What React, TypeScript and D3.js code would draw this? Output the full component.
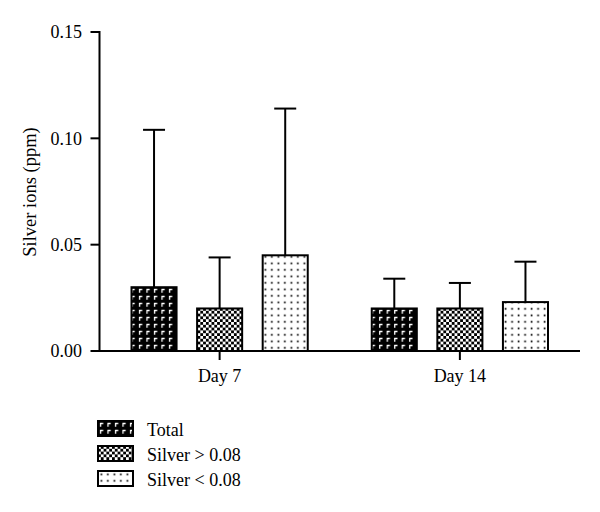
import React from "react";
import * as d3 from "d3";

const categories = ["Day 7", "Day 14"];
const seriesNames = ["Total", "Silver > 0.08", "Silver < 0.08"];
const seriesKeys = ["total", "above", "below"];
const meanTotal = [0.03, 0.02];
const meanAbove = [0.02, 0.02];
const meanBelow = [0.045, 0.023];
const errTotal = [0.074, 0.014];
const errAbove = [0.024, 0.012];
const errBelow = [0.069, 0.019];
const yTicks = [0, 0.05, 0.1, 0.15];

const means = [meanTotal, meanAbove, meanBelow];
const errs = [errTotal, errAbove, errBelow];

const FONT = "'Liberation Serif', 'DejaVu Serif', serif";

export default function App() {
  const W = 600, H = 512;
  const left = 99.5, right = 580, top = 32, bottom = 351;
  const y = d3.scaleLinear().domain([0, 0.15]).range([bottom, top]);
  const x0 = d3.scaleBand<string>().domain(categories).range([left, right]).padding(0);
  const x1 = d3
    .scaleBand<string>()
    .domain(seriesKeys)
    .range([0, x0.bandwidth()])
    .paddingInner(0.313)
    .paddingOuter(0.488);
  const fills = ["url(#patTotal)", "url(#patAbove)", "url(#patBelow)"];
  const cap = 11;

  return (
    <svg width={W} height={H} style={{ position: "absolute", left: 0, top: 0 }}>
      <defs>
        <pattern id="patTotal" width="7.5" height="7" patternUnits="userSpaceOnUse">
          <rect width="7.5" height="7" fill="#000" />
          <path d="M2,2.5 H5.2 M2.5,2 V5.8" stroke="#fff" strokeWidth="1.3" />
        </pattern>
        <pattern id="patAbove" width="5.6" height="5.6" patternUnits="userSpaceOnUse">
          <rect width="5.6" height="5.6" fill="#000" />
          <rect x="0" y="0" width="2.8" height="2.8" fill="#fff" />
          <rect x="2.8" y="2.8" width="2.8" height="2.8" fill="#fff" />
        </pattern>
        <pattern id="patBelow" width="6.5" height="6.5" patternUnits="userSpaceOnUse">
          <rect width="6.5" height="6.5" fill="#fff" />
          <rect x="2.5" y="2.5" width="1.7" height="1.7" fill="#000" />
        </pattern>
      </defs>

      {/* bars and error bars */}
      {categories.map((c, ci) => (
        <g key={c} transform={`translate(${x0(c)},0)`}>
          {seriesKeys.map((k, si) => {
            const bx = x1(k)!;
            const bw = x1.bandwidth();
            const v = means[si][ci];
            const e = errs[si][ci];
            const cx = bx + bw / 2;
            return (
              <g key={k}>
                <line x1={cx} x2={cx} y1={y(v)} y2={y(v + e)} stroke="#000" strokeWidth={2} />
                <line x1={cx - cap} x2={cx + cap} y1={y(v + e)} y2={y(v + e)} stroke="#000" strokeWidth={2} />
                <rect
                  x={bx}
                  y={y(v)}
                  width={bw}
                  height={y(0) - y(v)}
                  fill={fills[si]}
                  stroke="#000"
                  strokeWidth={2}
                />
              </g>
            );
          })}
        </g>
      ))}

      {/* y axis */}
      <line x1={left} x2={left} y1={top - 1} y2={bottom} stroke="#000" strokeWidth={2} />
      {yTicks.map((t) => (
        <g key={t}>
          <line x1={left - 9} x2={left} y1={y(t)} y2={y(t)} stroke="#000" strokeWidth={2} />
          <text
            x={82}
            y={y(t)}
            dy="0.35em"
            textAnchor="end"
            fontFamily={FONT}
            fontSize={18}
            fill="#000"
          >
            {d3.format(".2f")(t)}
          </text>
        </g>
      ))}
      <text
        transform={`translate(36,192) rotate(-90)`}
        textAnchor="middle"
        fontFamily={FONT}
        fontSize={18.5}
        fill="#000"
      >
        Silver ions (ppm)
      </text>

      {/* x axis */}
      <line x1={left - 1} x2={right} y1={bottom} y2={bottom} stroke="#000" strokeWidth={2} />
      {categories.map((c) => {
        const cx = x0(c)! + x0.bandwidth() / 2;
        return (
          <g key={c}>
            <line x1={cx} x2={cx} y1={bottom} y2={bottom + 9} stroke="#000" strokeWidth={2} />
            <text x={cx} y={382} textAnchor="middle" fontFamily={FONT} fontSize={18} fill="#000">
              {c}
            </text>
          </g>
        );
      })}

      {/* legend */}
      {seriesNames.map((n, i) => (
        <g key={n} transform={`translate(98,${421 + i * 25})`}>
          <rect width={35} height={15} fill={fills[i]} stroke="#000" strokeWidth={2} />
          <text x={49} y={15} fontFamily={FONT} fontSize={18} fill="#000">
            {n}
          </text>
        </g>
      ))}
    </svg>
  );
}
